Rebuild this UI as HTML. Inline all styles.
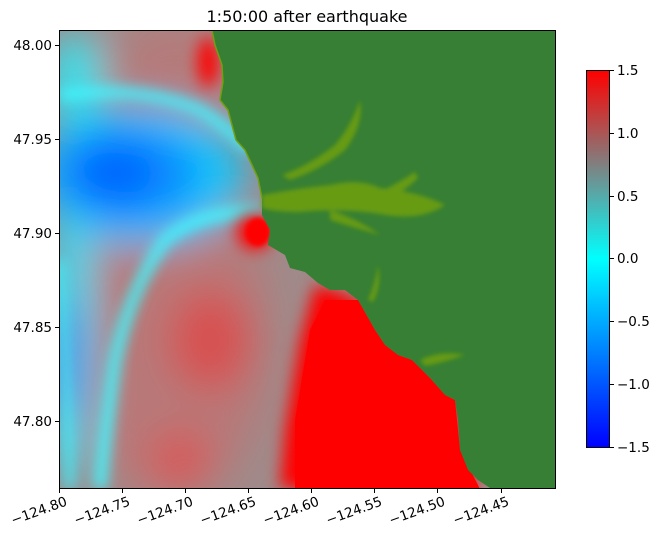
<!DOCTYPE html>
<html><head><meta charset="utf-8"><style>
body{margin:0;background:#fff;width:658px;height:541px;overflow:hidden;font-family:"Liberation Sans","DejaVu Sans",sans-serif}
svg text{font-family:"DejaVu Sans","Liberation Sans",sans-serif;font-size:13.5px;fill:#000}
</style></head><body>
<svg width="658" height="541" viewBox="0 0 658 541" xmlns="http://www.w3.org/2000/svg">
<defs>
<clipPath id="c"><rect x="59.5" y="30.5" width="496" height="458"/></clipPath>
<filter id="b20" x="-50%" y="-50%" width="200%" height="200%"><feGaussianBlur stdDeviation="20"/></filter>
<filter id="b8" x="-50%" y="-50%" width="200%" height="200%"><feGaussianBlur stdDeviation="8"/></filter>
<filter id="b6" x="-50%" y="-50%" width="200%" height="200%"><feGaussianBlur stdDeviation="6"/></filter>
<filter id="b2"><feGaussianBlur stdDeviation="2"/></filter>
<linearGradient id="cb" x1="0" y1="1" x2="0" y2="0">
<stop offset="0" stop-color="#0000ff"/><stop offset="0.5" stop-color="#00ffff"/><stop offset="0.75" stop-color="#808080"/><stop offset="1" stop-color="#ff0000"/>
</linearGradient>
</defs>
<text x="307" y="22" text-anchor="middle" style="font-size:16px">1:50:00 after earthquake</text>
<g clip-path="url(#c)">
<rect x="59" y="30" width="497" height="459" fill="#a08a8a"/>
<g filter="url(#b20)">
<ellipse cx="180" cy="70" rx="70" ry="50" fill="#b57a7a"/>
<ellipse cx="170" cy="340" rx="100" ry="160" fill="#b87878"/>
<ellipse cx="75" cy="80" rx="25" ry="50" fill="#30e8f5"/>
<ellipse cx="140" cy="175" rx="105" ry="70" fill="#18c8fa"/>
<ellipse cx="72" cy="330" rx="22" ry="160" fill="#30d8f0"/>
<ellipse cx="125" cy="175" rx="75" ry="50" fill="#0a8cff"/>
<ellipse cx="115" cy="172" rx="40" ry="28" fill="#0060ff"/>
<ellipse cx="63" cy="360" rx="12" ry="60" fill="#1a7cff"/>
<ellipse cx="210" cy="340" rx="40" ry="50" fill="#d85050"/>
<ellipse cx="180" cy="460" rx="30" ry="30" fill="#d85858"/>
</g>
<g fill="none" stroke="#40f8ff" filter="url(#b6)" opacity="0.8">
<path d="M60 95 Q140 85 200 110 Q225 125 250 150" stroke-width="12"/>
<path d="M262 212 Q200 210 165 240 Q130 290 115 360 Q105 430 100 489" stroke-width="14"/>
<path d="M60 260 Q66 380 70 489" stroke-width="8"/>
</g>
<g filter="url(#b8)">
<ellipse cx="255" cy="232" rx="18" ry="18" fill="#ff0000"/>
<ellipse cx="208" cy="62" rx="10" ry="25" fill="#ff0000"/>
</g>
<ellipse cx="258" cy="232" rx="12" ry="14" fill="#ff0000" filter="url(#b2)"/>
<path d="M300 340 L315 285 L335 290 L358 300 L375 330 L385 345 L398 355 L412 360 L430 378 L445 395 L455 400 L460 450 L480 489 L280 489 L285 430 Z" fill="#ff0000" filter="url(#b8)"/>
<path d="M310 330 L325 300 L358 300 L375 330 L385 345 L398 355 L412 360 L430 378 L445 395 L455 400 L460 450 L480 489 L295 489 L295 420 Z" fill="#ff0000"/>
<path d="M212 30 L215 45 L222 65 L223 82 L220 100 L228 110 L232 125 L236 140 L245 150 L252 165 L258 178 L262 198 L262 215 L270 230 L268 245 L285 255 L290 268 L305 272 L318 283 L330 290 L345 290 L358 300 L375 330 L385 345 L398 355 L412 360 L430 378 L445 395 L455 400 L458 420 L460 450 L468 470 L478 480 L490 488 L556 488 L556 30 Z" fill="#367f35"/>
<g fill="#6fa010" opacity="0.85" filter="url(#b2)">
<path d="M262 195 Q300 188 330 185 Q360 178 380 188 Q420 192 445 205 Q420 222 380 214 Q340 208 300 212 Q275 212 262 208 Z"/>
<path d="M282 175 Q310 165 335 145 Q352 125 360 100 Q364 125 345 150 Q320 170 290 180 Z"/>
<path d="M380 192 Q400 182 415 172 L418 178 Q400 195 385 200 Z"/>
<path d="M330 210 Q360 220 380 235 Q355 228 330 220 Z"/>
<path d="M420 360 Q440 350 465 355 Q445 362 425 366 Z"/>
<path d="M368 300 Q375 285 378 265 Q382 285 373 302 Z"/>
</g>
<path d="M212 30 L215 45 L222 65 L223 82 L220 100 L228 110 L232 125 L236 140 L245 150 L252 165 L258 178 L262 198" fill="none" stroke="#70a010" stroke-width="1.5"/>
</g>
<rect x="59.5" y="30.5" width="496" height="458" fill="none" stroke="#000" stroke-width="1"/>
<g stroke="#000">
<line x1="59.5" y1="489" x2="59.5" y2="493"/><line x1="122.5" y1="489" x2="122.5" y2="493"/><line x1="185.5" y1="489" x2="185.5" y2="493"/><line x1="248.5" y1="489" x2="248.5" y2="493"/><line x1="311.5" y1="489" x2="311.5" y2="493"/><line x1="374.5" y1="489" x2="374.5" y2="493"/><line x1="437.5" y1="489" x2="437.5" y2="493"/><line x1="501.5" y1="489" x2="501.5" y2="493"/>
<line x1="55" y1="45.5" x2="59" y2="45.5"/><line x1="55" y1="139.5" x2="59" y2="139.5"/><line x1="55" y1="233.5" x2="59" y2="233.5"/><line x1="55" y1="327.5" x2="59" y2="327.5"/><line x1="55" y1="421.5" x2="59" y2="421.5"/>
</g>
<g text-anchor="end">
<text x="52" y="50">48.00</text><text x="52" y="144">47.95</text><text x="52" y="238">47.90</text><text x="52" y="332">47.85</text><text x="52" y="426">47.80</text>
</g>
<g text-anchor="end">
<text transform="translate(68,505) rotate(-20)">−124.80</text>
<text transform="translate(131,505) rotate(-20)">−124.75</text>
<text transform="translate(194,505) rotate(-20)">−124.70</text>
<text transform="translate(257,505) rotate(-20)">−124.65</text>
<text transform="translate(320,505) rotate(-20)">−124.60</text>
<text transform="translate(383,505) rotate(-20)">−124.55</text>
<text transform="translate(446,505) rotate(-20)">−124.50</text>
<text transform="translate(510,505) rotate(-20)">−124.45</text>
</g>
<rect x="586.5" y="70.5" width="23" height="377" fill="url(#cb)" stroke="#000" stroke-width="1"/>
<g stroke="#000">
<line x1="610" y1="70.5" x2="614" y2="70.5"/><line x1="610" y1="133.5" x2="614" y2="133.5"/><line x1="610" y1="196.5" x2="614" y2="196.5"/><line x1="610" y1="258.5" x2="614" y2="258.5"/><line x1="610" y1="321.5" x2="614" y2="321.5"/><line x1="610" y1="384.5" x2="614" y2="384.5"/><line x1="610" y1="447.5" x2="614" y2="447.5"/>
</g>
<text x="617" y="75">1.5</text><text x="617" y="138">1.0</text><text x="617" y="201">0.5</text><text x="617" y="263">0.0</text><text x="617" y="326">−0.5</text><text x="617" y="389">−1.0</text><text x="617" y="452">−1.5</text>
</svg>
</body></html>
